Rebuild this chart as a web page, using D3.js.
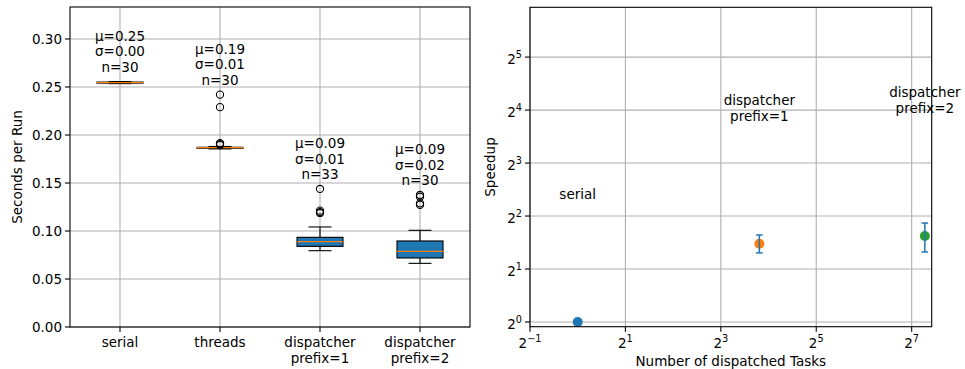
<!DOCTYPE html>
<html>
<head>
<meta charset="utf-8">
<script src="https://cdn.jsdelivr.net/npm/d3@7"></script>
<style>
  body { margin: 0; background: #fff; }
  svg { font-family: "DejaVu Sans", sans-serif; }
</style>
</head>
<body>
<svg id="chart" width="965" height="369"></svg>
<script>
// left panel: run times per variant
const categories = ["serial", "threads", "dispatcher\nprefix=1", "dispatcher\nprefix=2"];
const q1s = [0.2540, 0.1862, 0.0840, 0.0719];
const medians = [0.2546, 0.1868, 0.0889, 0.0788];
const q3s = [0.2551, 0.1872, 0.0934, 0.0896];
const whiskLo = [0.2535, 0.1855, 0.0795, 0.0663];
const whiskHi = [0.2556, 0.1880, 0.1042, 0.1007];
const fliers = [
  [],
  [0.242, 0.229, 0.1915, 0.1905, 0.1895],
  [0.1438, 0.1212, 0.1196, 0.1188],
  [0.1375, 0.1357, 0.1288, 0.1272]
];
const means = [0.2546, 0.1920, 0.0915, 0.0862];
const sds = [0.0004, 0.0105, 0.0125, 0.0180];
const counts = [30, 30, 33, 30];
const yTicksLeft = [0, 0.05, 0.10, 0.15, 0.20, 0.25, 0.30];

// right panel: speedup vs dispatched tasks
const spLabels = ["serial", "dispatcher\nprefix=1", "dispatcher\nprefix=2"];
const spTasks = [1, 14, 155];
const spValues = [1, 2.78, 3.08];
const spErrLo = [1, 2.47, 2.50];
const spErrHi = [1, 3.12, 3.65];
const spColors = ["#1f77b4", "#ff7f0e", "#2ca02c"];
const xExpTicks = [-1, 1, 3, 5, 7];
const yExpTicks = [0, 1, 2, 3, 4, 5];

const svg = d3.select("#chart");
const fs = 13.5;
const gridColor = "#b0b0b0";

// ---------- left ----------
const L = {left: 70, right: 470, top: 7, bottom: 327};
const x = d3.scaleLinear().domain([0.5, 4.5]).range([L.left, L.right]);
const y = d3.scaleLinear().domain([0, 0.3333]).range([L.bottom, L.top]);

const gl = svg.append("g");

gl.selectAll(".hgrid").data(yTicksLeft).enter().append("line")
  .attr("x1", L.left).attr("x2", L.right)
  .attr("y1", d => y(d)).attr("y2", d => y(d))
  .attr("stroke", gridColor).attr("stroke-width", 1.1);
gl.selectAll(".vgrid").data(categories).enter().append("line")
  .attr("x1", (d, i) => x(i + 1)).attr("x2", (d, i) => x(i + 1))
  .attr("y1", L.top).attr("y2", L.bottom)
  .attr("stroke", gridColor).attr("stroke-width", 1.1);

const half = 0.23, capHalf = 0.115;
categories.forEach((c, i) => {
  const cx = i + 1;
  const g = gl.append("g");
  // whiskers
  g.append("line").attr("x1", x(cx)).attr("x2", x(cx))
    .attr("y1", y(q3s[i])).attr("y2", y(whiskHi[i])).attr("stroke", "#000").attr("stroke-width", 1.1);
  g.append("line").attr("x1", x(cx)).attr("x2", x(cx))
    .attr("y1", y(q1s[i])).attr("y2", y(whiskLo[i])).attr("stroke", "#000").attr("stroke-width", 1.1);
  [whiskLo[i], whiskHi[i]].forEach(v => {
    g.append("line").attr("x1", x(cx - capHalf)).attr("x2", x(cx + capHalf))
      .attr("y1", y(v)).attr("y2", y(v)).attr("stroke", "#000").attr("stroke-width", 1.1);
  });
  // box
  g.append("rect").attr("x", x(cx - half)).attr("width", x(cx + half) - x(cx - half))
    .attr("y", y(q3s[i])).attr("height", Math.max(0.5, y(q1s[i]) - y(q3s[i])))
    .attr("fill", "#1f77b4").attr("stroke", "#000").attr("stroke-width", 1.1);
  g.append("line").attr("x1", x(cx - half)).attr("x2", x(cx + half))
    .attr("y1", y(medians[i])).attr("y2", y(medians[i]))
    .attr("stroke", "#ff7f0e").attr("stroke-width", 1.3);
  // fliers
  g.selectAll("circle").data(fliers[i]).enter().append("circle")
    .attr("cx", x(cx)).attr("cy", d => y(d)).attr("r", 3.6)
    .attr("fill", "none").attr("stroke", "#000").attr("stroke-width", 1.1);
  // annotation
  const top = d3.max([whiskHi[i], ...fliers[i]]) + 0.01;
  const lines = ["μ=" + means[i].toFixed(2), "σ=" + sds[i].toFixed(2), "n=" + counts[i]];
  const t = g.append("text").attr("text-anchor", "middle").attr("font-size", fs).attr("fill", "#000");
  lines.forEach((ln, k) => {
    t.append("tspan").attr("x", x(cx)).attr("y", y(top) - (2 - k) * 15.6).text(ln);
  });
});

// left axes frame
gl.append("rect").attr("x", L.left).attr("y", L.top)
  .attr("width", L.right - L.left).attr("height", L.bottom - L.top)
  .attr("fill", "none").attr("stroke", "#000").attr("stroke-width", 1.1);

yTicksLeft.forEach(v => {
  gl.append("line").attr("x1", L.left - 5).attr("x2", L.left)
    .attr("y1", y(v)).attr("y2", y(v)).attr("stroke", "#000").attr("stroke-width", 1.1);
  gl.append("text").attr("x", L.left - 8).attr("y", y(v)).attr("dy", "0.36em")
    .attr("text-anchor", "end").attr("font-size", fs).text(v.toFixed(2));
});
categories.forEach((c, i) => {
  gl.append("line").attr("x1", x(i + 1)).attr("x2", x(i + 1))
    .attr("y1", L.bottom).attr("y2", L.bottom + 5).attr("stroke", "#000").attr("stroke-width", 1.1);
  const t = gl.append("text").attr("text-anchor", "middle").attr("font-size", fs);
  c.split("\n").forEach((ln, k) => {
    t.append("tspan").attr("x", x(i + 1)).attr("y", 347 + k * 15.6).text(ln);
  });
});
gl.append("text").attr("transform", `translate(22,${(L.top + L.bottom) / 2}) rotate(-90)`)
  .attr("text-anchor", "middle").attr("font-size", fs).text("Seconds per Run");

// ---------- right ----------
const R = {left: 530, right: 931.7, top: 7.3, bottom: 326.7};
const xr = d3.scaleLog().base(2).domain([Math.pow(2, -1), Math.pow(2, 7.42)]).range([R.left, R.right]);
const yr = d3.scaleLog().base(2).domain([Math.pow(2, -0.089), Math.pow(2, 5.94)]).range([R.bottom, R.top]);

const gr = svg.append("g");
gr.selectAll(".hgrid").data(yExpTicks).enter().append("line")
  .attr("x1", R.left).attr("x2", R.right)
  .attr("y1", d => yr(Math.pow(2, d))).attr("y2", d => yr(Math.pow(2, d)))
  .attr("stroke", gridColor).attr("stroke-width", 1.1);
gr.selectAll(".vgrid").data(xExpTicks).enter().append("line")
  .attr("x1", d => xr(Math.pow(2, d))).attr("x2", d => xr(Math.pow(2, d)))
  .attr("y1", R.top).attr("y2", R.bottom)
  .attr("stroke", gridColor).attr("stroke-width", 1.1);

spTasks.forEach((t, i) => {
  const px = xr(t);
  gr.append("circle").attr("cx", px).attr("cy", yr(spValues[i])).attr("r", 5)
    .attr("fill", spColors[i]);
  if (spErrHi[i] !== spErrLo[i]) {
    gr.append("line").attr("x1", px).attr("x2", px)
      .attr("y1", yr(spErrLo[i])).attr("y2", yr(spErrHi[i]))
      .attr("stroke", "#1f77b4").attr("stroke-width", 1.5);
    [spErrLo[i], spErrHi[i]].forEach(v => {
      gr.append("line").attr("x1", px - 3.3).attr("x2", px + 3.3)
        .attr("y1", yr(v)).attr("y2", yr(v)).attr("stroke", "#1f77b4").attr("stroke-width", 1.5);
    });
  }
  const lines = spLabels[i].split("\n");
  const tx = gr.append("text").attr("text-anchor", "middle").attr("font-size", fs);
  lines.forEach((ln, k) => {
    tx.append("tspan").attr("x", px).attr("y", yr(spValues[i] * 5) - (lines.length - 1 - k) * 15.6).text(ln);
  });
});

gr.append("rect").attr("x", R.left).attr("y", R.top)
  .attr("width", R.right - R.left).attr("height", R.bottom - R.top)
  .attr("fill", "none").attr("stroke", "#000").attr("stroke-width", 1.1);

function powLabel(sel, e) {
  sel.append("tspan").text("2");
  sel.append("tspan").attr("dy", -6).attr("font-size", fs * 0.72).text(e < 0 ? "\u2212" + (-e) : String(e));
}

yExpTicks.forEach(e => {
  const py = yr(Math.pow(2, e));
  gr.append("line").attr("x1", R.left - 5).attr("x2", R.left)
    .attr("y1", py).attr("y2", py).attr("stroke", "#000").attr("stroke-width", 1.1);
  const t = gr.append("text").attr("x", R.left - 8).attr("y", py + 7)
    .attr("text-anchor", "end").attr("font-size", fs);
  powLabel(t, e);
});
xExpTicks.forEach(e => {
  const px = xr(Math.pow(2, e));
  gr.append("line").attr("x1", px).attr("x2", px)
    .attr("y1", R.bottom).attr("y2", R.bottom + 5).attr("stroke", "#000").attr("stroke-width", 1.1);
  const t = gr.append("text").attr("x", px).attr("y", 348)
    .attr("text-anchor", "middle").attr("font-size", fs);
  powLabel(t, e);
});
gr.append("text").attr("x", (R.left + R.right) / 2).attr("y", 366)
  .attr("text-anchor", "middle").attr("font-size", fs).text("Number of dispatched Tasks");
gr.append("text").attr("transform", `translate(495,${(R.top + R.bottom) / 2}) rotate(-90)`)
  .attr("text-anchor", "middle").attr("font-size", fs).text("Speedup");
</script>
</body>
</html>
